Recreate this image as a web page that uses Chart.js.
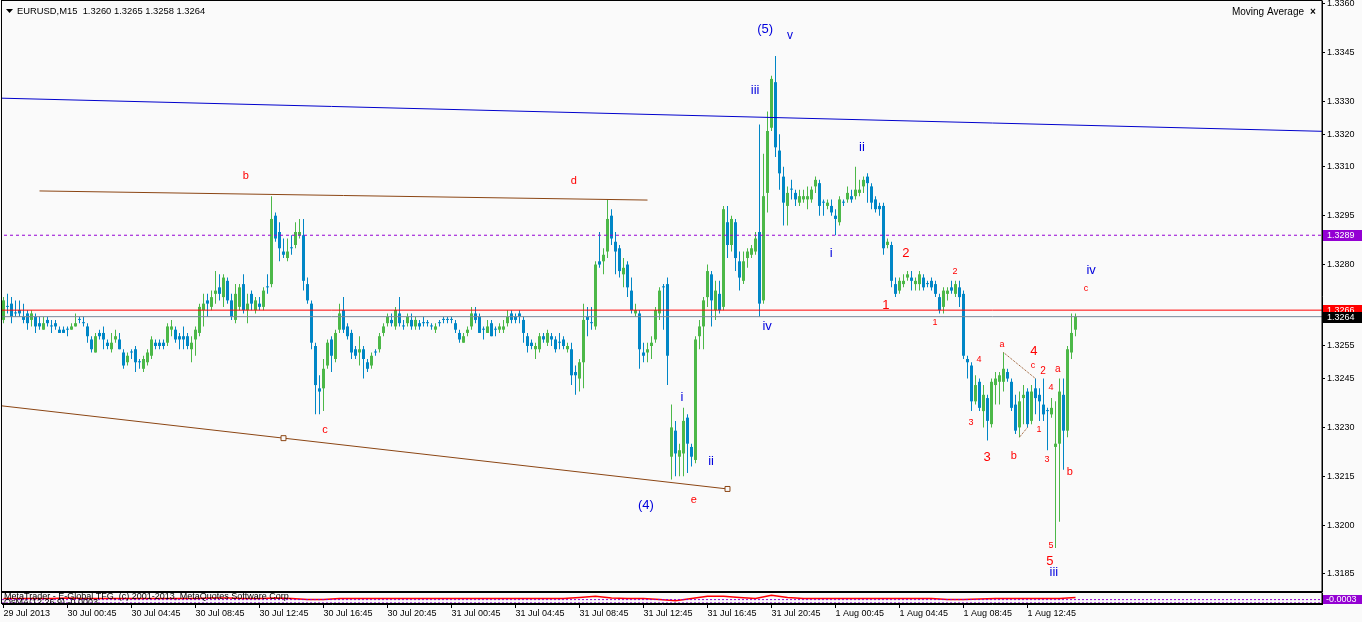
<!DOCTYPE html>
<html>
<head>
<meta charset="utf-8">
<script src="https://cdn.jsdelivr.net/npm/chart.js@4.4.1/dist/chart.umd.min.js"></script>
<style>
  html, body { margin: 0; padding: 0; background: #fafafa; }
  #wrap { position: relative; width: 1362px; height: 622px; overflow: hidden; }
  canvas { position: absolute; left: 0; }
  #main { top: 0; }
  #osc { top: 591px; }
</style>
</head>
<body>
<div id="wrap">
  <canvas id="main" width="1362" height="593"></canvas>
  <canvas id="osc" width="1362" height="31"></canvas>
</div>
<script>
// EURUSD M15, one entry per bar (bar 0 = 29 Jul 2013 20:45)
const open = [
  1.3263,1.3267,1.3268,1.3265,1.3266,1.3264,1.3265,1.3263,1.3264,1.3262,
  1.3260,1.3263,1.3261,1.3262,1.3260,1.3260,1.3260,1.3260,1.3261,1.3263,
  1.3262,1.3261,1.3257,1.3253,1.3259,1.3259,1.3256,1.3254,1.3257,1.3257,
  1.3253,1.3250,1.3253,1.3254,1.3250,1.3248,1.3250,1.3252,1.3256,1.3256,
  1.3256,1.3256,1.3260,1.3260,1.3258,1.3258,1.3258,1.3254,1.3257,1.3259,
  1.3266,1.3269,1.3267,1.3271,1.3273,1.3270,1.3275,1.3269,1.3263,1.3267,
  1.3274,1.3266,1.3271,1.3266,1.3268,1.3267,1.3273,1.3274,1.3295,1.3290,
  1.3284,1.3282,1.3285,1.3286,1.3289,1.3289,1.3274,1.3268,1.3255,1.3242,
  1.3242,1.3249,1.3257,1.3251,1.3260,1.3266,1.3261,1.3259,1.3254,1.3253,
  1.3254,1.3250,1.3249,1.3253,1.3254,1.3259,1.3262,1.3263,1.3261,1.3265,
  1.3261,1.3262,1.3263,1.3261,1.3262,1.3262,1.3262,1.3261,1.3260,1.3262,
  1.3263,1.3263,1.3263,1.3262,1.3259,1.3256,1.3259,1.3261,1.3265,1.3264,
  1.3260,1.3259,1.3262,1.3260,1.3260,1.3260,1.3262,1.3265,1.3264,1.3265,
  1.3263,1.3258,1.3256,1.3254,1.3254,1.3258,1.3256,1.3258,1.3257,1.3256,
  1.3257,1.3254,1.3254,1.3247,1.3245,1.3250,1.3264,1.3262,1.3261,1.3281,
  1.3281,1.3284,1.3295,1.3287,1.3285,1.3277,1.3280,1.3272,1.3265,1.3265,
  1.3253,1.3253,1.3255,1.3257,1.3265,1.3273,1.3274,1.3221,1.3229,1.3221,
  1.3222,1.3233,1.3224,1.3220,1.3258,1.3261,1.3270,1.3277,1.3266,1.3271,
  1.3267,1.3293,1.3286,1.3293,1.3281,1.3275,1.3282,1.3283,1.3284,1.3290,
  1.3269,1.3302,1.3322,1.3336,1.3315,1.3307,1.3298,1.3303,1.3302,1.3299,
  1.3300,1.3300,1.3300,1.3304,1.3305,1.3299,1.3298,1.3298,1.3295,1.3293,
  1.3299,1.3300,1.3301,1.3301,1.3302,1.3304,1.3307,1.3304,1.3300,1.3298,
  1.3298,1.3286,1.3286,1.3274,1.3272,1.3274,1.3276,1.3276,1.3274,1.3274,
  1.3276,1.3274,1.3275,1.3274,1.3270,1.3267,1.3271,1.3273,1.3271,1.3273,
  1.3271,1.3251,1.3249,1.3238,1.3244,1.3235,1.3239,1.3231,1.3243,1.3244,
  1.3244,1.3247,1.3244,1.3237,1.3230,1.3239,1.3241,1.3232,1.3242,1.3240,
  1.3237,1.3235,1.3234,1.3224,1.3225,1.3240,1.3229,1.3253,1.3260
];
const high = [
  1.3270,1.3271,1.3270,1.3269,1.3269,1.3268,1.3266,1.3266,1.3265,1.3264,
  1.3264,1.3264,1.3263,1.3263,1.3261,1.3261,1.3261,1.3262,1.3265,1.3264,
  1.3264,1.3262,1.3258,1.3259,1.3260,1.3261,1.3257,1.3259,1.3260,1.3259,
  1.3254,1.3253,1.3254,1.3255,1.3251,1.3252,1.3254,1.3258,1.3257,1.3257,
  1.3257,1.3262,1.3263,1.3261,1.3259,1.3261,1.3259,1.3258,1.3261,1.3268,
  1.3271,1.3271,1.3272,1.3278,1.3277,1.3277,1.3276,1.3271,1.3274,1.3274,
  1.3277,1.3271,1.3272,1.3270,1.3270,1.3273,1.3277,1.3301,1.3296,1.3293,
  1.3288,1.3288,1.3289,1.3293,1.3294,1.3294,1.3276,1.3269,1.3256,1.3246,
  1.3251,1.3257,1.3258,1.3260,1.3268,1.3270,1.3262,1.3260,1.3255,1.3258,
  1.3255,1.3251,1.3253,1.3254,1.3259,1.3262,1.3265,1.3265,1.3267,1.3270,
  1.3263,1.3265,1.3265,1.3264,1.3263,1.3264,1.3263,1.3262,1.3262,1.3263,
  1.3264,1.3264,1.3264,1.3263,1.3260,1.3259,1.3261,1.3267,1.3267,1.3265,
  1.3261,1.3263,1.3263,1.3261,1.3262,1.3263,1.3266,1.3266,1.3265,1.3266,
  1.3264,1.3259,1.3257,1.3256,1.3259,1.3259,1.3260,1.3259,1.3258,1.3259,
  1.3258,1.3256,1.3256,1.3249,1.3251,1.3268,1.3267,1.3267,1.3281,1.3290,
  1.3285,1.3300,1.3297,1.3290,1.3286,1.3282,1.3281,1.3276,1.3268,1.3266,
  1.3256,1.3256,1.3258,1.3267,1.3273,1.3274,1.3276,1.3237,1.3232,1.3225,
  1.3236,1.3234,1.3225,1.3258,1.3263,1.3270,1.3280,1.3278,1.3275,1.3275,
  1.3298,1.3298,1.3295,1.3294,1.3284,1.3284,1.3285,1.3286,1.3290,1.3323,
  1.3314,1.3327,1.3338,1.3344,1.3320,1.3310,1.3304,1.3306,1.3303,1.3303,
  1.3303,1.3304,1.3304,1.3307,1.3306,1.3300,1.3300,1.3300,1.3297,1.3301,
  1.3300,1.3304,1.3303,1.3310,1.3306,1.3307,1.3308,1.3305,1.3301,1.3299,
  1.3299,1.3288,1.3287,1.3276,1.3276,1.3277,1.3278,1.3278,1.3276,1.3278,
  1.3277,1.3275,1.3276,1.3275,1.3271,1.3273,1.3273,1.3275,1.3275,1.3275,
  1.3272,1.3252,1.3250,1.3246,1.3245,1.3243,1.3240,1.3245,1.3247,1.3247,
  1.3253,1.3248,1.3245,1.3240,1.3241,1.3243,1.3242,1.3243,1.3245,1.3242,
  1.3245,1.3236,1.3239,1.3238,1.3245,1.3245,1.3255,1.3265,1.3265
];
const low = [
  1.3262,1.3265,1.3262,1.3264,1.3264,1.3262,1.3260,1.3261,1.3259,1.3260,
  1.3260,1.3261,1.3259,1.3260,1.3259,1.3259,1.3258,1.3260,1.3261,1.3262,
  1.3261,1.3256,1.3253,1.3253,1.3257,1.3254,1.3254,1.3253,1.3256,1.3254,
  1.3248,1.3249,1.3251,1.3247,1.3248,1.3247,1.3249,1.3251,1.3254,1.3254,
  1.3254,1.3255,1.3258,1.3256,1.3254,1.3254,1.3254,1.3250,1.3252,1.3258,
  1.3261,1.3264,1.3266,1.3268,1.3269,1.3267,1.3268,1.3263,1.3262,1.3266,
  1.3265,1.3262,1.3266,1.3265,1.3266,1.3266,1.3271,1.3273,1.3287,1.3281,
  1.3282,1.3281,1.3283,1.3285,1.3288,1.3272,1.3268,1.3254,1.3234,1.3234,
  1.3235,1.3248,1.3247,1.3250,1.3259,1.3259,1.3257,1.3251,1.3251,1.3249,
  1.3245,1.3247,1.3248,1.3252,1.3253,1.3258,1.3261,1.3261,1.3260,1.3261,
  1.3260,1.3261,1.3260,1.3260,1.3260,1.3261,1.3261,1.3260,1.3259,1.3261,
  1.3262,1.3262,1.3262,1.3259,1.3256,1.3256,1.3258,1.3260,1.3262,1.3259,
  1.3257,1.3259,1.3258,1.3258,1.3259,1.3259,1.3261,1.3262,1.3262,1.3262,
  1.3256,1.3253,1.3254,1.3251,1.3253,1.3256,1.3255,1.3255,1.3253,1.3254,
  1.3254,1.3253,1.3243,1.3240,1.3241,1.3242,1.3258,1.3260,1.3260,1.3279,
  1.3277,1.3282,1.3286,1.3277,1.3276,1.3273,1.3270,1.3265,1.3264,1.3248,
  1.3250,1.3250,1.3251,1.3256,1.3263,1.3260,1.3243,1.3214,1.3215,1.3215,
  1.3215,1.3216,1.3218,1.3219,1.3254,1.3254,1.3267,1.3261,1.3263,1.3265,
  1.3266,1.3282,1.3284,1.3278,1.3272,1.3274,1.3279,1.3282,1.3283,1.3264,
  1.3268,1.3296,1.3321,1.3313,1.3303,1.3292,1.3292,1.3300,1.3298,1.3298,
  1.3299,1.3297,1.3299,1.3302,1.3295,1.3295,1.3297,1.3295,1.3289,1.3292,
  1.3298,1.3299,1.3299,1.3300,1.3301,1.3302,1.3299,1.3297,1.3296,1.3295,
  1.3283,1.3285,1.3273,1.3270,1.3271,1.3273,1.3275,1.3272,1.3272,1.3272,
  1.3272,1.3273,1.3272,1.3270,1.3265,1.3265,1.3269,1.3271,1.3270,1.3267,
  1.3251,1.3245,1.3235,1.3237,1.3235,1.3230,1.3226,1.3230,1.3237,1.3237,
  1.3241,1.3244,1.3235,1.3228,1.3227,1.3231,1.3230,1.3231,1.3234,1.3232,
  1.3232,1.3223,1.3233,1.3193,1.3201,1.3217,1.3227,1.3251,1.3258
];
const close = [
  1.3269,1.3267,1.3264,1.3265,1.3265,1.3263,1.3262,1.3265,1.3261,1.3261,
  1.3262,1.3262,1.3261,1.3261,1.3259,1.3259,1.3260,1.3261,1.3262,1.3263,
  1.3262,1.3258,1.3254,1.3258,1.3258,1.3257,1.3255,1.3256,1.3258,1.3254,
  1.3249,1.3252,1.3253,1.3250,1.3250,1.3251,1.3253,1.3257,1.3255,1.3255,
  1.3255,1.3261,1.3261,1.3257,1.3257,1.3257,1.3255,1.3256,1.3260,1.3267,
  1.3268,1.3268,1.3270,1.3272,1.3271,1.3276,1.3269,1.3264,1.3271,1.3273,
  1.3266,1.3268,1.3268,1.3269,1.3267,1.3272,1.3273,1.3294,1.3288,1.3285,
  1.3283,1.3284,1.3285,1.3290,1.3290,1.3275,1.3269,1.3256,1.3243,1.3241,
  1.3248,1.3256,1.3252,1.3259,1.3265,1.3260,1.3258,1.3253,1.3252,1.3254,
  1.3251,1.3248,1.3252,1.3253,1.3258,1.3261,1.3264,1.3262,1.3266,1.3262,
  1.3261,1.3264,1.3261,1.3263,1.3261,1.3262,1.3262,1.3261,1.3261,1.3262,
  1.3263,1.3263,1.3263,1.3260,1.3257,1.3258,1.3260,1.3265,1.3263,1.3259,
  1.3260,1.3261,1.3258,1.3260,1.3261,1.3261,1.3264,1.3263,1.3263,1.3264,
  1.3259,1.3255,1.3255,1.3255,1.3258,1.3257,1.3259,1.3257,1.3254,1.3256,
  1.3255,1.3255,1.3246,1.3246,1.3250,1.3263,1.3263,1.3262,1.3280,1.3280,
  1.3283,1.3294,1.3288,1.3284,1.3278,1.3279,1.3273,1.3266,1.3266,1.3254,
  1.3252,1.3254,1.3256,1.3266,1.3272,1.3273,1.3252,1.3230,1.3222,1.3223,
  1.3232,1.3225,1.3221,1.3257,1.3261,1.3269,1.3278,1.3269,1.3272,1.3266,
  1.3297,1.3286,1.3294,1.3282,1.3276,1.3281,1.3284,1.3285,1.3288,1.3268,
  1.3301,1.3321,1.3337,1.3316,1.3308,1.3299,1.3302,1.3303,1.3300,1.3301,
  1.3301,1.3301,1.3303,1.3306,1.3298,1.3299,1.3299,1.3296,1.3294,1.3300,
  1.3299,1.3302,1.3300,1.3303,1.3303,1.3306,1.3305,1.3299,1.3297,1.3297,
  1.3285,1.3287,1.3275,1.3271,1.3275,1.3275,1.3277,1.3275,1.3275,1.3277,
  1.3273,1.3274,1.3273,1.3271,1.3266,1.3272,1.3272,1.3272,1.3274,1.3270,
  1.3252,1.3250,1.3238,1.3243,1.3236,1.3240,1.3232,1.3244,1.3245,1.3246,
  1.3248,1.3245,1.3236,1.3229,1.3238,1.3240,1.3231,1.3241,1.3239,1.3238,
  1.3234,1.3235,1.3236,1.3225,1.3241,1.3229,1.3254,1.3259,1.3264
];

// price axis labels and time axis labels (bar index of each time label)
const priceTicks = [1.3360, 1.3345, 1.3330, 1.3320, 1.3310, 1.3295, 1.3280,
                    1.3255, 1.3245, 1.3230, 1.3215, 1.3200, 1.3185];
const timeTickBars = [0, 16, 32, 48, 64, 80, 96, 112, 128, 144, 160, 176, 192, 208, 224, 240, 256];
const timeTickLabels = ['29 Jul 2013', '30 Jul 00:45', '30 Jul 04:45', '30 Jul 08:45', '30 Jul 12:45',
  '30 Jul 16:45', '30 Jul 20:45', '31 Jul 00:45', '31 Jul 04:45', '31 Jul 08:45', '31 Jul 12:45',
  '31 Jul 16:45', '31 Jul 20:45', '1 Aug 00:45', '1 Aug 04:45', '1 Aug 08:45', '1 Aug 12:45'];

// horizontal levels
const askPrice = 1.3266;
const bidPrice = 1.3264;
const levelPrice = 1.3289;

// drawn trend lines (bar index, price)
const blueLineBars = [-1, 330];
const blueLinePrices = [1.33311, 1.33209];
const upperBrownBars = [9, 161];
const upperBrownPrices = [1.33026, 1.32998];
const lowerBrownBars = [-1, 70, 181];
const lowerBrownPrices = [1.32367, 1.32267, 1.32111];
const zigBarsA = [250, 258];
const zigPricesA = [1.3253, 1.3245];
const zigBarsB = [254, 256];
const zigPricesB = [1.3227, 1.3230];

// wave count labels
const waveText  = ['(5)', 'v', 'iii', 'ii', 'i', 'iv', 'b', 'd', 'c', 'i', 'ii', '(4)', 'e',
  '2', '1', '2', '1', 'iv', 'c', '4', 'a', 'c', '2', '4', 'a', '4', '3', '3', 'b', '1', '3', 'b', '5', '5', 'iii'];
const waveBar   = [190.4, 196.6, 187.9, 214.6, 206.9, 190.9, 60.6, 142.6, 80.4, 169.6, 176.9, 160.6, 172.6,
  225.6, 220.6, 237.9, 232.9, 271.9, 270.6, 257.6, 249.6, 257.4, 259.9, 243.9, 263.6, 261.9, 241.9, 245.9,
  252.6, 258.9, 260.9, 266.6, 261.9, 261.6, 262.6];
const wavePrice = [1.33523, 1.33502, 1.33336, 1.33161, 1.32835, 1.32611, 1.33072, 1.33057, 1.32292,
  1.32393, 1.32197, 1.32059, 1.32077, 1.32835, 1.32676, 1.32780, 1.32621, 1.32783, 1.32725, 1.32532,
  1.32556, 1.32489, 1.32473, 1.32507, 1.32479, 1.32421, 1.32314, 1.32209, 1.32212, 1.32292, 1.32200,
  1.32163, 1.31936, 1.31890, 1.31856];
const waveBlue  = [1, 1, 1, 1, 1, 1, 0, 0, 0, 1, 1, 1, 0, 0, 0, 0, 0, 1, 0, 0, 0, 0, 0, 0, 0, 0, 0, 0, 0, 0, 0, 0, 0, 0, 1];
const waveSize  = [13, 12, 13, 13, 13, 13, 11, 11, 11, 13, 13, 13, 11, 13, 13, 9, 9, 13, 9, 13, 9, 9, 10, 9, 10, 9, 9, 13, 11, 9, 9, 11, 9, 13, 13];

// oscillator sub-window (every 4th bar)
const oscBars = [0,4,8,12,16,20,24,28,32,36,40,44,48,52,56,60,64,68,72,76,80,84,88,92,96,100,104,108,112,116,
  120,124,128,132,136,140,144,148,152,156,160,164,168,172,176,180,184,188,192,196,200,204,208,212,216,220,
  224,228,232,236,240,244,248,252,256,260,264,268];
const oscValues = [0,0,0,0,0.00005,0,0,0,0,0,0,0,0,0.00005,0.00005,0,0,0.00005,0,-0.0001,-0.0001,0,0,0,0,0,0,0,
  0,0,0,0,0,0,0,0,0.0001,0.0002,0.00005,0,0,-0.0001,-0.0002,0,0.0002,0.0002,0.0001,0,0.0003,0.0001,0,0,0,0,0,
  0,0,0,0,-0.0001,-0.0001,-0.00005,0,0,0,0,0,0.0001];
const oscLevels = [-0.0001, -0.0004];

const GREEN = '#4cb848';
const BLUE = '#0086c6';
const FONT = '"Liberation Sans", Arial, sans-serif';
const X_MIN = -0.375, X_MAX = 329.625;

const bars = open.map((_, i) => i);
const candleColor = bars.map(i => close[i] > open[i] ? GREEN : BLUE);
const pts = (xs, ys) => xs.map((x, i) => ({ x: x, y: ys[i] }));

const mainDecor = {
  id: 'mainDecor',
  afterDraw(chart) {
    const { ctx, chartArea: a, scales: { x, y } } = chart;
    ctx.save();
    ctx.strokeStyle = '#000';
    ctx.lineWidth = 1;
    ctx.strokeRect(1.5, 0.5, a.right - 1.5, a.bottom);

    // wave labels
    ctx.textAlign = 'center';
    ctx.textBaseline = 'middle';
    waveText.forEach((t, i) => {
      ctx.font = waveSize[i] + 'px ' + FONT;
      ctx.fillStyle = waveBlue[i] ? '#0000dd' : '#ff0000';
      ctx.fillText(t, x.getPixelForValue(waveBar[i]), y.getPixelForValue(wavePrice[i]));
    });

    // header
    const last = open.length - 1;
    ctx.fillStyle = '#000';
    ctx.beginPath();
    ctx.moveTo(6, 9); ctx.lineTo(13, 9); ctx.lineTo(9.5, 13); ctx.closePath(); ctx.fill();
    ctx.font = '9.4px ' + FONT;
    ctx.textAlign = 'left';
    ctx.fillText('EURUSD,M15  ' + [open[last], high[last], low[last], close[last]].map(v => v.toFixed(4)).join(' '), 17, 11);
    ctx.font = '10px ' + FONT;
    ctx.textAlign = 'right';
    ctx.fillText('Moving Average', 1304, 12);
    ctx.font = 'bold 10px ' + FONT;
    ctx.textAlign = 'left';
    ctx.fillText('\u00d7', 1310, 12);

    // price tags on the axis
    const tag = (price, bg) => {
      const py = Math.round(y.getPixelForValue(price));
      ctx.fillStyle = bg;
      ctx.fillRect(a.right + 1, py - 5, 39, 11);
      ctx.fillStyle = '#fff';
      ctx.font = '9px ' + FONT;
      ctx.textAlign = 'left';
      ctx.fillText(price.toFixed(4), a.right + 5, py + 0.5);
    };
    tag(levelPrice, '#9400d3');
    tag(askPrice, '#ff0000');
    tag(bidPrice, '#000000');
    ctx.restore();
  }
};

const line = (data, color, extra) => Object.assign({
  type: 'line', data: data, borderColor: color, borderWidth: 1, pointRadius: 0,
  fill: false, tension: 0, order: 0
}, extra || {});

new Chart(document.getElementById('main'), {
  type: 'bar',
  data: {
    datasets: [
      { type: 'bar', data: bars.map(i => ({ x: i, y: [low[i], high[i]] })), backgroundColor: candleColor,
        barThickness: 1, maxBarThickness: 1, grouped: false, inflateAmount: 0, order: 3 },
      { type: 'bar', data: bars.map(i => ({ x: i, y: [open[i], close[i]] })), backgroundColor: candleColor,
        barThickness: 3, maxBarThickness: 3, minBarLength: 1, grouped: false, inflateAmount: 0, order: 2 },
      line(pts(blueLineBars, blueLinePrices), '#0000cc'),
      line(pts(upperBrownBars, upperBrownPrices), '#8b4513'),
      line(pts(lowerBrownBars, lowerBrownPrices), '#8b4513',
        { pointRadius: [0, 3.5, 3.5], pointStyle: 'rect', pointBackgroundColor: '#fafafa', pointBorderColor: '#8b4513', pointBorderWidth: 1 }),
      line(pts(zigBarsA, zigPricesA), '#8b4513', { borderDash: [1, 1] }),
      line(pts(zigBarsB, zigPricesB), '#8b4513', { borderDash: [1, 1] }),
      line(pts([X_MIN - 1, X_MAX + 1], [levelPrice, levelPrice]), '#9400d3', { borderDash: [3, 3] }),
      line(pts([X_MIN - 1, X_MAX + 1], [bidPrice, bidPrice]), '#778899'),
      line(pts([X_MIN - 1, X_MAX + 1], [askPrice, askPrice]), '#ff0000')
    ]
  },
  options: {
    responsive: false,
    animation: false,
    devicePixelRatio: 1,
    events: [],
    layout: { autoPadding: false, padding: { left: 2, top: 1, right: 0, bottom: 2 } },
    plugins: { legend: { display: false }, tooltip: { enabled: false } },
    scales: {
      x: { type: 'linear', min: X_MIN, max: X_MAX, offset: false, display: false, grid: { offset: false } },
      y: {
        position: 'right', min: 1.317977, max: 1.336092,
        afterBuildTicks: ax => { ax.ticks = priceTicks.map(v => ({ value: v })); },
        afterFit: ax => { ax.width = 40; ax.paddingTop = 0; ax.paddingBottom = 0; },
        grid: { drawOnChartArea: false, drawTicks: true, tickLength: 3, color: '#000' },
        border: { display: true, color: '#000' },
        ticks: { autoSkip: false, padding: 2, color: '#000', font: { family: FONT, size: 9 },
          callback: v => Number(v).toFixed(4) }
      }
    }
  },
  plugins: [mainDecor]
});

const oscDecor = {
  id: 'oscDecor',
  afterDraw(chart) {
    const { ctx, chartArea: a } = chart;
    ctx.save();
    ctx.strokeStyle = '#000';
    ctx.lineWidth = 1;
    ctx.strokeRect(1.5, a.top - 0.5, a.right - 1.5, a.bottom - a.top);
    ctx.beginPath();
    ctx.rect(2, a.top, a.right - 2, a.bottom - a.top);
    ctx.clip();
    ctx.fillStyle = '#000';
    ctx.font = '9px ' + FONT;
    ctx.textAlign = 'left';
    ctx.textBaseline = 'middle';
    ctx.fillText('MetaTrader - E-Global TFG, (c) 2001-2013, MetaQuotes Software Corp.', 4, a.top + 4);
    ctx.fillText('OsMA(12,26,9) -0.0003', 4, a.top + 10);
    ctx.restore();
    ctx.save();
    ctx.fillStyle = '#9400d3';
    ctx.fillRect(a.right + 1, a.top + 2, 39, a.bottom - a.top - 2);
    ctx.fillStyle = '#fff';
    ctx.font = '9px ' + FONT;
    ctx.textBaseline = 'middle';
    ctx.fillText('-0.0003', a.right + 4, (a.top + a.bottom) / 2 + 1.5);
    ctx.restore();
  }
};

new Chart(document.getElementById('osc'), {
  type: 'line',
  data: {
    datasets: [
      line(pts([X_MIN - 1, X_MAX + 1], [oscLevels[0], oscLevels[0]]), '#9400d3', { borderDash: [2, 2] }),
      line(pts([X_MIN - 1, X_MAX + 1], [oscLevels[1], oscLevels[1]]), '#9400d3', { borderDash: [2, 2] }),
      line(pts(oscBars, oscValues), '#ff0000', { borderWidth: 1.5 })
    ]
  },
  options: {
    responsive: false,
    animation: false,
    devicePixelRatio: 1,
    events: [],
    layout: { autoPadding: false, padding: { left: 2, top: 2, right: 0, bottom: 0 } },
    plugins: { legend: { display: false }, tooltip: { enabled: false } },
    scales: {
      x: {
        type: 'linear', min: X_MIN, max: X_MAX, offset: false,
        afterBuildTicks: ax => { ax.ticks = timeTickBars.map(v => ({ value: v })); },
        afterFit: ax => { ax.height = 18; ax.paddingLeft = 0; ax.paddingRight = 0; },
        grid: { drawOnChartArea: false, drawTicks: true, tickLength: 4, color: '#000' },
        border: { display: true, color: '#000' },
        ticks: { align: 'start', autoSkip: false, maxRotation: 0, padding: 0, color: '#000',
          font: { family: FONT, size: 9 }, callback: (v, i) => timeTickLabels[i] }
      },
      y: {
        position: 'right', min: -0.0005, max: 0.0005,
        afterFit: ax => { ax.width = 40; ax.paddingTop = 0; ax.paddingBottom = 0; },
        ticks: { display: false },
        grid: { display: false },
        border: { display: true, color: '#000' }
      }
    }
  },
  plugins: [oscDecor]
});
</script>
</body>
</html>
